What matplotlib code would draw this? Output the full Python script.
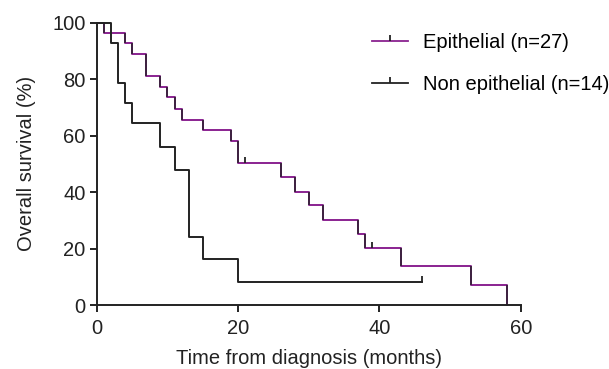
import numpy as np
import matplotlib
matplotlib.use("Agg")
import matplotlib.pyplot as plt
from matplotlib.path import Path

plt.rcParams["font.family"] = ["Liberation Sans", "DejaVu Sans"]

# Kaplan-Meier curves (time in months, survival in %)
epi_time = [0, 1, 4, 5, 7, 9, 10, 11, 12, 15, 19, 20, 26, 28, 30, 32, 37, 38, 43, 53, 58]
epi_surv = [100, 96.3, 92.6, 88.8, 81.2, 77.3, 73.5, 69.5, 65.6, 61.9, 58.1, 50.3,
            45.2, 40.1, 35.3, 30.3, 25.1, 20.4, 13.8, 7.1, 0]
epi_cens_time = [21, 39]
epi_cens_surv = [50.3, 20.4]

non_time = [0, 2, 3, 4, 5, 9, 11, 13, 15, 20, 46]
non_surv = [100, 92.9, 78.6, 71.4, 64.3, 55.8, 47.7, 24.0, 16.2, 8.3, 8.3]
non_cens_time = [46]
non_cens_surv = [8.3]

purple = "#8a2290"
dark = "#222222"
fs = 14.5
tick_up = Path([(0, 0), (0, 1)])

fig = plt.figure(figsize=(6.09, 3.69), dpi=100)
ax = fig.add_axes([0.159, 0.173, 0.696, 0.766])

ax.step(epi_time, epi_surv, where="post", color=purple, lw=1.4, clip_on=False)
ax.vlines(epi_time[1:], epi_surv[1:], epi_surv[:-1], color="#3d2340", lw=1.4)
ax.plot(epi_cens_time, epi_cens_surv, ls="none", marker=tick_up, ms=9,
        mec=dark, mew=1.3)
ax.step(non_time, non_surv, where="post", color=dark, lw=1.4, clip_on=False)
ax.plot(non_cens_time, non_cens_surv, ls="none", marker=tick_up, ms=9,
        mec=dark, mew=1.3)

# legend handles
ax.plot([], [], color=purple, lw=1.3, marker=tick_up, ms=9, mec=dark,
        mew=1.3, label="Epithelial (n=27)")
ax.plot([], [], color=dark, lw=1.3, marker=tick_up, ms=9, mec=dark,
        mew=1.3, label="Non epithelial (n=14)")
ax.legend(loc="upper left", bbox_to_anchor=(0.631, 0.991), frameon=False,
          fontsize=fs, handlelength=1.77, handletextpad=0.75, labelspacing=1.16,
          numpoints=1, borderaxespad=0)

ax.set_xlim(0, 60)
ax.set_ylim(0, 100)
ax.set_xticks([0, 20, 40, 60])
ax.set_yticks([0, 20, 40, 60, 80, 100])
for s in ["top", "right"]:
    ax.spines[s].set_visible(False)
for s in ["left", "bottom"]:
    ax.spines[s].set_linewidth(1.4)
    ax.spines[s].set_color(dark)
ax.tick_params(direction="out", length=5, width=1.4, color=dark,
               labelsize=fs, labelcolor=dark)
ax.tick_params(axis="x", pad=5)
ax.tick_params(axis="y", pad=3)
ax.set_xlabel("Time from diagnosis (months)", fontsize=fs, color=dark, labelpad=8)
ax.set_ylabel("Overall survival (%)", fontsize=fs, color=dark, labelpad=12)

fig.savefig("out.png", dpi=100)
